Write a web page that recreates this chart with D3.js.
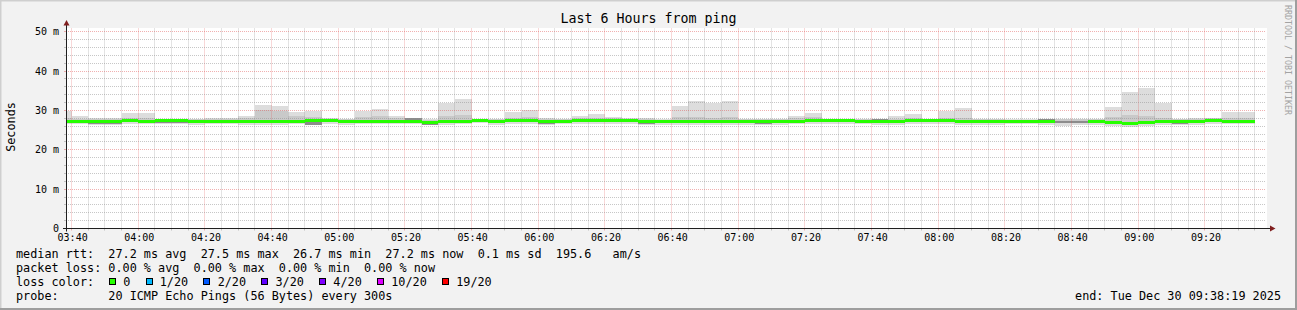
<!DOCTYPE html>
<html>
<head>
<meta charset="utf-8">
<script src="https://cdn.jsdelivr.net/npm/d3@7"></script>
<style>
  body { margin: 0; background: #f2f2f2; }
  svg { display: block; }
  text { font-family: "DejaVu Sans Mono", monospace; fill: #000; white-space: pre; }
</style>
</head>
<body>
<div id="chart"></div>
<script>
// smokeping: 20 pings every 300s, one smoke column per step
const stepStart = new Date(2025, 11, 30, 3, 35, 0);
const stepSec = 300;
const graphStart = new Date(2025, 11, 30, 3, 38, 19);
const graphEnd = new Date(2025, 11, 30, 9, 38, 19);

// values in ms
const median = [27.1,27.2,27.3,27.3,27.4,27.2,27.5,27.5,27.3,27.3,
  27.3,27.2,27.1,27.1,27.3,27.4,27.4,27.1,27.3,27.3,
  27.3,27.2,26.9,27.2,27.3,27.5,27.3,27.4,27.4,27.1,
  27.3,27.4,27.4,27.4,27.4,27.1,27.1,27.3,27.2,27.3,
  27.3,27.3,27.2,27.3,27.3,27.5,27.4,27.4,27.3,27.1,
  27.3,27.4,27.4,27.5,27.3,27.1,27.3,27.2,27.2,27.2,
  null,null,27.1,26.9,26.7,26.9,27.1,27.1,27.2,27.5,
  27.3,27.3];
const minRtt = [26.5,26.5,26.3,26.3,26.5,26.5,26.6,26.5,26.4,26.5,
  26.5,26.4,26.4,26.4,26.5,26.3,26.5,26.4,26.5,26.5,
  26.5,26.5,26.2,26.4,26.5,26.7,26.3,26.5,26.5,26.4,
  26.5,26.5,26.5,26.5,26.5,26.4,26.3,26.3,26.4,26.4,
  26.4,26.2,26.2,26.4,26.5,26.6,26.5,26.6,26.5,26.4,
  26.4,26.6,26.5,26.6,26.4,26.2,26.4,26.5,26.5,26.4,
  26.1,26.2,26.3,26.0,25.8,26.0,26.3,26.2,26.4,26.5,
  26.5,26.5];
const darkLo = [26.75,26.85,26.5,26.5,27.05,26.85,26.9,26.9,26.95,26.95,
  26.95,26.85,26.75,26.75,26.95,26.4,27.05,26.75,26.95,26.95,
  26.95,26.85,26.4,26.85,26.95,27.15,26.95,27.05,27.05,26.6,
  26.95,27.05,27.05,27.05,27.05,26.6,26.75,26.95,26.85,26.95,
  26.95,26.95,26.5,26.95,26.95,27.15,27.05,27.05,26.95,26.75,
  26.95,27.05,27.05,27.15,26.95,26.75,26.95,26.7,26.7,26.85,
  26.8,26.8,26.75,26.55,26.35,26.55,26.75,26.6,26.85,27.15,
  26.95,26.95];
const darkHi = [27.4,27.5,27.6,27.6,27.7,27.5,27.8,27.8,27.6,27.6,
  27.6,27.5,27.4,27.4,27.6,27.7,27.7,27.4,27.6,27.6,
  27.6,28.0,27.2,27.5,27.6,27.8,27.6,27.7,27.7,27.4,
  27.6,27.7,27.7,27.7,27.7,27.4,27.4,27.6,27.5,27.6,
  27.6,27.6,27.5,27.6,27.6,27.8,27.7,27.7,27.6,27.9,
  27.6,27.7,27.7,27.8,27.6,27.4,27.6,27.5,27.5,27.7,
  27.2,27.2,27.4,27.2,27.0,27.2,27.4,27.4,27.5,27.8,
  27.6,27.6];
const hiRtt = [28.2,27.9,27.8,27.8,28.0,28.0,27.9,27.9,27.8,27.9,
  27.9,28.0,30.0,29.8,28.5,28.3,27.9,27.7,28.3,28.5,
  28.0,27.9,27.5,28.6,28.8,27.9,27.8,28.2,28.3,27.7,
  27.8,28.1,28.2,28.0,27.9,27.7,27.6,28.3,28.4,28.2,
  28.3,27.8,27.8,27.8,28.0,28.3,27.9,27.9,27.8,27.7,
  27.9,28.1,27.9,28.1,28.2,27.7,27.8,27.6,27.6,27.8,
  27.7,27.7,27.7,28.4,28.8,28.5,28.0,27.7,27.8,28.0,
  28.1,28.0];
const maxRtt = [29.8,28.7,28.0,28.0,29.3,29.3,27.9,27.9,27.9,28.0,
  28.0,28.7,31.3,31.0,29.6,29.9,28.2,27.9,29.8,30.4,
  28.5,27.9,27.7,32.0,33.0,27.9,27.9,29.5,30.0,28.1,
  27.9,28.7,29.0,28.4,28.1,28.1,27.8,31.0,32.4,32.0,
  32.4,27.9,27.9,27.9,28.7,29.3,27.9,27.9,27.9,27.9,
  28.5,29.0,27.9,29.8,30.5,27.9,27.9,27.7,27.7,27.9,
  27.9,27.9,27.9,30.8,34.6,35.6,31.9,27.9,28.2,28.2,
  29.6,29.6];

const yTicks = [0, 10, 20, 30, 40, 50];
const lossLabels = ["0", "1/20", "2/20", "3/20", "4/20", "10/20", "19/20"];
const lossColors = ["#26ff00", "#00b8ff", "#0059ff", "#5e00ff", "#7e00ff", "#dd00ff", "#ff0000"];
const legendLines = [
  "median rtt:  27.2 ms avg  27.5 ms max  26.7 ms min  27.2 ms now  0.1 ms sd  195.6   am/s",
  "packet loss: 0.00 % avg  0.00 % max  0.00 % min  0.00 % now",
  "loss color:",
  "probe:       20 ICMP Echo Pings (56 Bytes) every 300s"
];
const endLabel = "end: Tue Dec 30 09:38:19 2025";

const W = 1297, H = 310;
const plotL = 66, plotR = 1266, plotT = 28.5, plotB = 228.5;
const cw = 7.1; // legend char advance

const svg = d3.select("#chart").append("svg")
  .attr("width", W).attr("height", H);

// background with 3d border
svg.append("rect").attr("width", W).attr("height", H).attr("fill", "#f2f2f2");
svg.append("path").attr("d", `M0,${H} V0 H${W}`).attr("fill", "none")
  .attr("stroke", "#cfcfcf").attr("stroke-width", 3);
svg.append("path").attr("d", `M0,${H} H${W} V0`).attr("fill", "none")
  .attr("stroke", "#9e9e9e").attr("stroke-width", 4);

svg.append("rect").attr("x", plotL).attr("y", 28).attr("width", plotR - plotL + 1).attr("height", 201)
  .attr("fill", "#fff");

const x = d3.scaleTime().domain([graphStart, graphEnd]).range([plotL, plotR]);
const y = d3.scaleLinear().domain([0, 200 / 3.936]).range([plotB, plotT]);

const steps = median.map((m, i) => ({
  t0: new Date(stepStart.getTime() + i * stepSec * 1000),
  t1: new Date(stepStart.getTime() + (i + 1) * stepSec * 1000),
  med: m, min: minRtt[i], dlo: darkLo[i], dhi: darkHi[i], hi: hiRtt[i], max: maxRtt[i]
}));
const sx0 = d => Math.max(x(d.t0), plotL);
const sw = d => x(d.t1) - sx0(d);

const smoke = svg.append("g").attr("shape-rendering", "crispEdges");
function band(lo, hi, color) {
  smoke.selectAll(null).data(steps).enter().append("rect")
    .attr("x", sx0).attr("width", sw)
    .attr("y", d => y(hi(d))).attr("height", d => y(lo(d)) - y(hi(d)))
    .attr("fill", color);
}
band(d => d.min, d => d.max, "#dddddd");
band(d => d.dlo, d => d.hi, "#c9c9c9");
band(d => d.dlo, d => d.dhi, "#8c8c8c");

// grid
const grid = svg.append("g");
const minorCol = "rgba(143,143,143,0.5)", majorCol = "rgba(222,79,79,0.45)";
const px = v => Math.floor(v) + 0.5;
const xMinor = d3.timeMinute.every(5).range(graphStart, graphEnd);
xMinor.forEach(t => {
  const major = t.getMinutes() % 20 === 0;
  const c = major ? majorCol : minorCol;
  grid.append("line").attr("x1", px(x(t))).attr("x2", px(x(t)))
    .attr("y1", plotT).attr("y2", plotB).attr("stroke", c).attr("stroke-dasharray", "1,1");
  grid.append("line").attr("x1", px(x(t))).attr("x2", px(x(t)))
    .attr("y1", plotB).attr("y2", plotB + 2).attr("stroke", c);
});
d3.range(2, 51, 2).forEach(v => {
  const c = v % 10 === 0 ? majorCol : minorCol;
  grid.append("line").attr("x1", plotL).attr("x2", plotR).attr("y1", px(y(v))).attr("y2", px(y(v)))
    .attr("stroke", c).attr("stroke-dasharray", "1,1");
  grid.append("line").attr("x1", plotL - 2).attr("x2", plotL).attr("y1", px(y(v))).attr("y2", px(y(v)))
    .attr("stroke", c);
});

// median line
svg.append("g").attr("shape-rendering", "crispEdges")
  .selectAll("rect").data(steps.filter(d => d.med != null)).enter().append("rect")
  .attr("x", sx0).attr("width", sw)
  .attr("y", d => y(d.med) - 1.5).attr("height", 3)
  .attr("fill", lossColors[0]);

// axes
const axisCol = "#1f1f1f", arrowCol = "#801f1f";
svg.append("line").attr("x1", plotL + 0.5).attr("x2", plotL + 0.5).attr("y1", plotB + 3).attr("y2", 25)
  .attr("stroke", axisCol);
svg.append("line").attr("x1", plotL - 3).attr("x2", 1270).attr("y1", plotB).attr("y2", plotB)
  .attr("stroke", axisCol);
svg.append("path").attr("d", `M${plotL - 2.5},25.5 L${plotL + 3.5},25.5 L${plotL + 0.5},20 Z`).attr("fill", arrowCol);
svg.append("path").attr("d", `M1270,${plotB - 3} L1270,${plotB + 3} L1275.5,${plotB} Z`).attr("fill", arrowCol);

const xAxis = d3.axisBottom(x)
  .tickValues(d3.timeMinute.every(20).range(graphStart, graphEnd))
  .tickFormat(d3.timeFormat("%H:%M")).tickSize(0).tickPadding(5);
const gx = svg.append("g").attr("transform", `translate(0.5,${plotB})`).call(xAxis);
gx.select(".domain").remove();
gx.selectAll("text").style("font-size", "10px").attr("fill", "#000");

const yAxis = d3.axisLeft(y).tickValues(yTicks)
  .tickFormat(d => d === 0 ? "0" : d + " m").tickSize(0).tickPadding(7);
const gy = svg.append("g").attr("transform", `translate(${plotL},0)`).call(yAxis);
gy.select(".domain").remove();
gy.selectAll("text").style("font-size", "10px").attr("fill", "#000");

// titles
svg.append("text").attr("x", 648.5).attr("y", 23).attr("text-anchor", "middle")
  .style("font-size", "13.3px").text("Last 6 Hours from ping");
svg.append("text").attr("transform", "translate(14.5,127) rotate(-90)").attr("text-anchor", "middle")
  .style("font-size", "11.8px").text("Seconds");
svg.append("text").attr("transform", "translate(1285,5) rotate(90)")
  .style("font-size", "8.3px").style("fill", "#a3a3a3").text("RRDTOOL / TOBI OETIKER");

// legend
const legend = svg.append("g").style("font-size", "11.8px");
legendLines.forEach((s, i) => {
  legend.append("text").attr("x", 16).attr("y", 258 + i * 14).attr("xml:space", "preserve").text(s);
});
let col = 13.1;
lossLabels.forEach((lab, i) => {
  legend.append("rect").attr("x", Math.round(16 + col * cw) + 0.5).attr("y", 278.5)
    .attr("width", 6).attr("height", 6)
    .attr("fill", lossColors[i]).attr("stroke", "#000");
  legend.append("text").attr("x", 16 + (col + 2) * cw).attr("y", 286).text(lab);
  col += 2 + lab.length + 2.15;
});
legend.append("text").attr("x", 1281).attr("y", 300).attr("text-anchor", "end").text(endLabel);
</script>
</body>
</html>
